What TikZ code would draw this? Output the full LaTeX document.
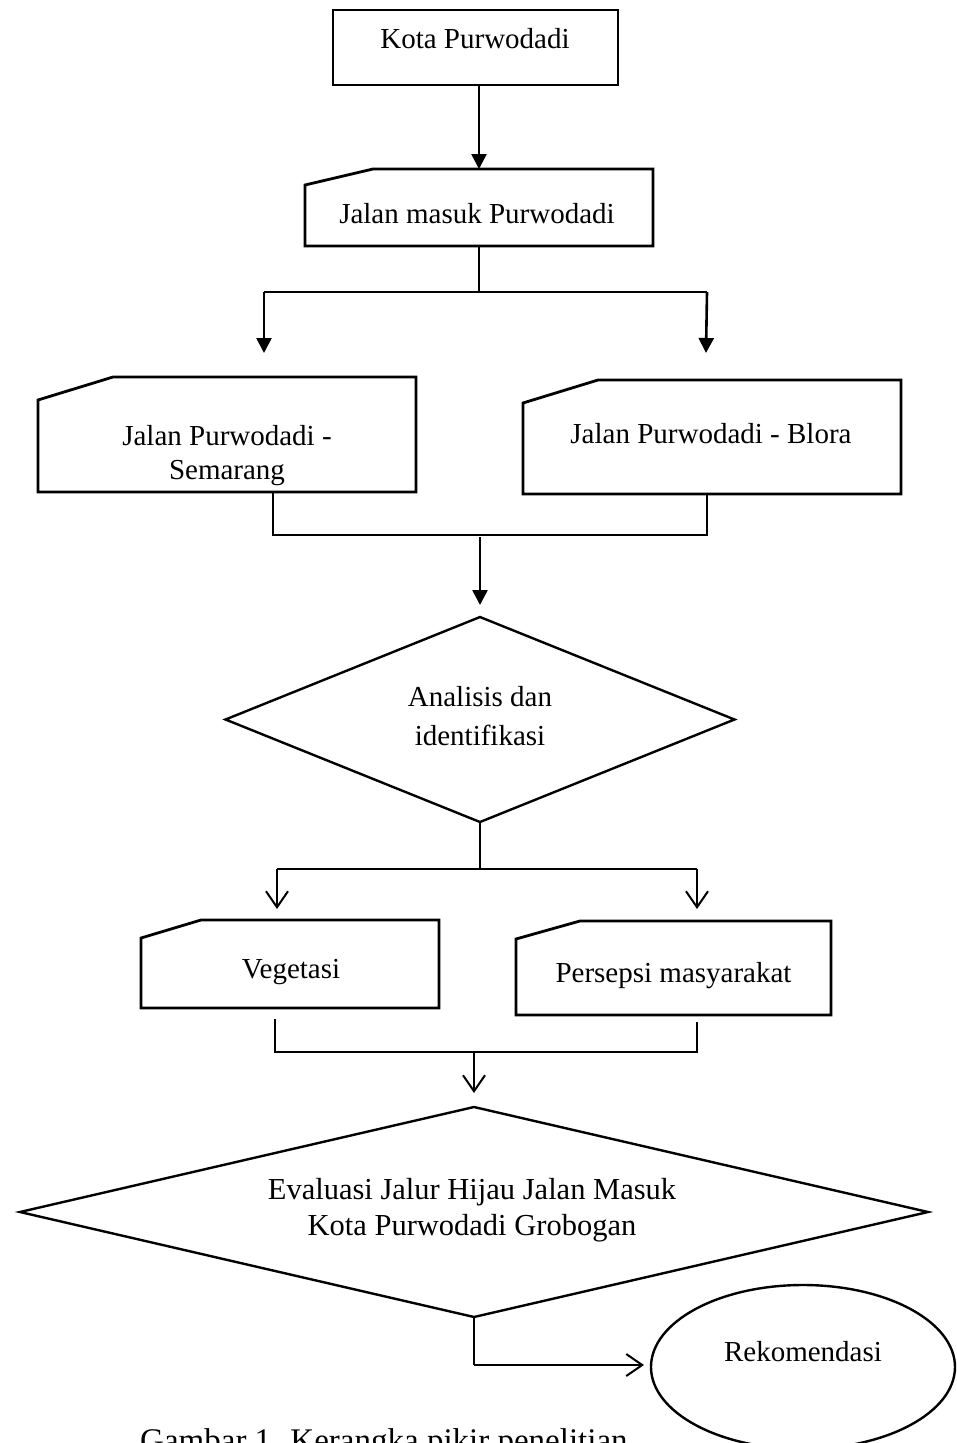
\documentclass[tikz,border=0pt]{standalone}
\usepackage{fontspec}
\setmainfont{Liberation Serif}
\usetikzlibrary{calc, positioning}
\usetikzlibrary{arrows.meta}
\usetikzlibrary{shapes.geometric}

% outline of a box with its top left corner cut off
\newcommand{\cardline}[3]{%
  \draw[outline] ([xshift=#2]#1.north west) -- (#1.north east) -- (#1.south east)
    -- (#1.south west) -- ([yshift=-#3]#1.north west) -- cycle;}

\begin{document}
\begin{tikzpicture}[x=1pt, y=-1pt,
  outline/.style={line width=2.8pt, line join=miter},
  plainbox/.style={draw, rectangle, line width=2.8pt, inner sep=0pt, outer sep=0pt},
  cardbox/.style={rectangle, inner sep=0pt, outer sep=0pt},
  decision/.style={draw, diamond, line width=2.4pt, inner sep=0pt, outer sep=0pt},
  txt/.style={anchor=base, inner sep=0pt, font=\fontsize{29pt}{34pt}\selectfont},
  txtc/.style={anchor=center, inner sep=0pt, align=center},
  link/.style={line width=1.3pt},
  arrF/.style={line width=2.6pt, -{Triangle[length=15pt,width=15pt]}},
  arrO/.style={line width=2pt, -{Straight Barb[length=16pt,width=22pt]}}
]
\useasboundingbox (0,0) rectangle (957,1443);
\clip (0,0) rectangle (957,1443);
\fill[white] (0,0) rectangle (957,1443);

% boxes
\node[plainbox, minimum width=285pt, minimum height=75pt] (kota) at (475.5,47.5) {};
\node[cardbox, minimum width=348pt, minimum height=77pt] (jm) at (479,207.5) {};
\node[cardbox, minimum width=378pt, minimum height=115pt] (jps) at (227,434.5) {};
\node[cardbox, minimum width=378pt, minimum height=114pt] (jpb) at (712,437) {};
\node[cardbox, minimum width=298pt, minimum height=88pt] (veg) at (290,964) {};
\node[cardbox, minimum width=315pt, minimum height=94pt] (per) at (673.5,968) {};
\cardline{jm}{68pt}{16pt}
\cardline{jps}{75pt}{23pt}
\cardline{jpb}{75pt}{23pt}
\cardline{veg}{60pt}{18pt}
\cardline{per}{64pt}{18pt}

\node[decision, minimum width=509pt, minimum height=205pt] (dA) at (480,719.5) {};
\node[decision, minimum width=908pt, minimum height=210pt] (dB) at (474,1212) {};
\node[draw, ellipse, line width=2.4pt, inner sep=0pt, minimum width=304pt, minimum height=164pt] (rek) at (803,1367) {};

% texts
\node[txt] (kotaT) at (475,48) {Kota Purwodadi};
\node[txt] (jmT) at (477,223) {Jalan masuk Purwodadi};
\node[txtc, font=\fontsize{29pt}{34pt}\selectfont] (jpsT) at (227,456) {Jalan Purwodadi -\\Semarang};
\node[txt] (jpbT) at (711,443) {Jalan Purwodadi - Blora};
\node[txtc, font=\fontsize{29pt}{39pt}\selectfont] (dAT) at (480,716.5) {Analisis dan\\identifikasi};
\node[txt] (vegT) at (291,978) {Vegetasi};
\node[txt] (perT) at (673.5,982) {Persepsi masyarakat};
\node[txtc, font=\fontsize{30.5pt}{36pt}\selectfont] (dBT) at (472,1210) {Evaluasi Jalur Hijau Jalan Masuk\\Kota Purwodadi Grobogan};
\node[txt] (rekT) at (803,1361) {Rekomendasi};
\node[txt, anchor=base west, font=\fontsize{33pt}{38pt}\selectfont] (capT) at (140,1451) {Gambar 1. Kerangka pikir penelitian};

% connectors
\coordinate (s1) at (479,292);
\coordinate (s1L) at (264,292);
\coordinate (s1R) at (707,292);
\coordinate (e1L) at (264,353);
\coordinate (e1R) at (706,353);
\coordinate (m1L) at (273,535);
\coordinate (m1R) at (707,535);
\coordinate (m1) at (480,537);
\coordinate (e1) at (480,605);
\coordinate (s2) at (480,869);
\coordinate (s2L) at (277,869);
\coordinate (s2R) at (697,869);
\coordinate (e2L) at (277,909);
\coordinate (e2R) at (697,909);
\coordinate (m2L) at (275,1052);
\coordinate (m2R) at (697,1052);
\coordinate (m2) at (474,1052);
\coordinate (e3) at (474,1093);
\coordinate (r1) at (474,1365);
\coordinate (e4) at (644,1365);

\draw[arrF] (kota.south -| jm.north) -- (jm.north);
\draw[link] (jm.south) -- (s1);
\draw[link] (s1L) -- (s1R);
\draw[arrF] (s1L) -- (e1L);
\draw[arrF] (s1R) -- (e1R);
\draw[link] (jps.south -| m1L) -- (m1L) -- (m1R) -- (jpb.south -| m1R);
\draw[arrF] (m1) -- (e1);
\draw[link] (dA.south) -- (s2);
\draw[link] (s2L) -- (s2R);
\draw[arrO] (s2L) -- (e2L);
\draw[arrO] (s2R) -- (e2R);
\draw[link] ([yshift=-11pt]veg.south -| m2L) -- (m2L) -- (m2R) -- ([yshift=-7pt]per.south -| m2R);
\draw[arrO] (m2) -- (e3);
\draw[link] (dB.south) -- (r1);
\draw[arrO] (r1) -- (e4);
\end{tikzpicture}
\end{document}
